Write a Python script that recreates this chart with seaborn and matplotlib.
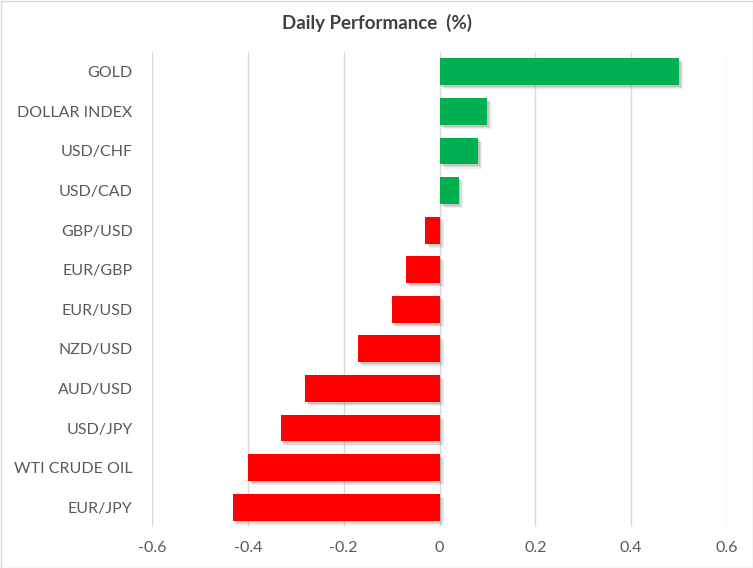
import matplotlib
matplotlib.use("Agg")
import matplotlib.pyplot as plt
import matplotlib.patheffects as pe
import seaborn as sns
import pandas as pd

categories = ["GOLD", "DOLLAR INDEX", "USD/CHF", "USD/CAD", "GBP/USD", "EUR/GBP",
              "EUR/USD", "NZD/USD", "AUD/USD", "USD/JPY", "WTI CRUDE OIL", "EUR/JPY"]
values = [0.50, 0.10, 0.08, 0.04, -0.03, -0.07, -0.10, -0.17, -0.28, -0.33, -0.40, -0.43]
x_ticks = [-0.6, -0.4, -0.2, 0, 0.2, 0.4, 0.6]
x_tick_labels = ["-0.6", "-0.4", "-0.2", "0", "0.2", "0.4", "0.6"]
title = "Daily Performance  (%)"

df = pd.DataFrame({"category": categories, "value": values})
df["sign"] = ["pos" if v >= 0 else "neg" for v in values]

sns.set_theme(style="white")
plt.rcParams["font.family"] = ["Lato", "DejaVu Sans"]
text_color = "#595959"

fig = plt.figure(figsize=(7.53, 5.68), dpi=100)
ax = fig.add_axes([152/753, 1-527/568, (727-152)/753, (527-52)/568])

sns.barplot(data=df, x="value", y="category", hue="sign", order=categories,
            palette={"pos": "#00B050", "neg": "#FF0000"}, orient="h",
            width=0.68, legend=False, ax=ax, saturation=1, linewidth=0)

for p in ax.patches:
    p.set_path_effects([
        pe.SimplePatchShadow(offset=(3.0, -3.0), shadow_rgbFace="#808080", alpha=0.12),
        pe.SimplePatchShadow(offset=(2.2, -2.2), shadow_rgbFace="#808080", alpha=0.18),
        pe.SimplePatchShadow(offset=(1.3, -1.3), shadow_rgbFace="#808080", alpha=0.25),
        pe.Normal()])

ax.set_xlim(-0.6, 0.6)
ax.set_xticks(x_ticks)
ax.set_xticklabels(x_tick_labels)
ax.set_xlabel("")
ax.set_ylabel("")
ax.xaxis.grid(True, color="#D9D9D9", linewidth=1)
ax.set_axisbelow(True)
for s in ax.spines.values():
    s.set_visible(False)
ax.tick_params(axis="both", length=0, colors=text_color, labelsize=11.5)
ax.tick_params(axis="y", pad=14)
ax.tick_params(axis="x", pad=10)

fig.text(0.5, 1-23/568, title, ha="center", va="center", fontsize=13.5,
         fontweight="bold", color="#404040")

border = plt.Rectangle((0.5/753, 0.5/568), 1-1/753, 1-1/568, transform=fig.transFigure,
                       fill=False, edgecolor="#D9D9D9", linewidth=1)
fig.patches.append(border)

fig.savefig("out.png", dpi=100)
